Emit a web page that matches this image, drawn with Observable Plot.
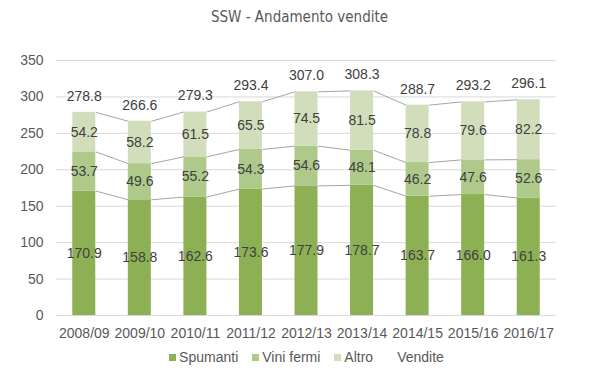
<!DOCTYPE html>
<html>
<head>
<meta charset="utf-8">
<script src="https://cdn.jsdelivr.net/npm/d3@7"></script>
<script src="https://cdn.jsdelivr.net/npm/@observablehq/plot@0.6"></script>
<style>
  body { margin: 0; background: #fff; width: 599px; height: 378px; overflow: hidden; }
  #title { height: 30px; line-height: 34px; text-align: center; font-family: "DejaVu Sans", sans-serif; font-stretch: condensed; font-size: 15px; color: #595959; }
  #legend { display: flex; justify-content: center; align-items: center; gap: 14px; margin-top: 4px; padding-left: 14px; font-family: "Liberation Sans", Arial, sans-serif; font-size: 14px; color: #595959; }
  .item { display: flex; align-items: center; gap: 3px; }
  .sw { width: 7px; height: 7px; display: inline-block; }
</style>
</head>
<body>
<div id="title">SSW - Andamento vendite</div>
<div id="chart"></div>
<div id="legend"></div>
<script>
const years = ["2008/09","2009/10","2010/11","2011/12","2012/13","2013/14","2014/15","2015/16","2016/17"];
const spumanti = [170.9, 158.8, 162.6, 173.6, 177.9, 178.7, 163.7, 166.0, 161.3];
const viniFermi = [53.7, 49.6, 55.2, 54.3, 54.6, 48.1, 46.2, 47.6, 52.6];
const altro = [54.2, 58.2, 61.5, 65.5, 74.5, 81.5, 78.8, 79.6, 82.2];
const vendite = [278.8, 266.6, 279.3, 293.4, 307.0, 308.3, 288.7, 293.2, 296.1];
const seriesNames = ["Spumanti", "Vini fermi", "Altro"];
const seriesColors = ["#8eb054", "#aec98a", "#d2debb"];
const yTicks = [0, 50, 100, 150, 200, 250, 300, 350];

const hw = 0.207; // half bar width in band units
const seriesValues = [spumanti, viniFermi, altro];

const segs = [];
const levels = [[], [], []];
years.forEach((yr, i) => {
  let base = 0;
  seriesValues.forEach((vals, s) => {
    const top = base + vals[i];
    segs.push({i, series: seriesNames[s], y1: base, y2: top, v: vals[i]});
    levels[s].push(s === 2 ? vendite[i] : top);
    base = top;
  });
});
const links = [];
levels.forEach(lv => {
  for (let i = 0; i < lv.length - 1; i++) links.push({x1: i + hw, x2: i + 1 - hw, y1: lv[i], y2: lv[i + 1]});
});
const totals = years.map((yr, i) => ({i, v: vendite[i]}));

const plot = Plot.plot({
  width: 599,
  height: 315,
  marginLeft: 56,
  marginRight: 43,
  marginTop: 30,
  marginBottom: 30,
  style: {fontFamily: "'Liberation Sans', Arial, sans-serif", fontSize: "14px", color: "#595959", background: "#fff"},
  x: {type: "linear", domain: [-0.5, 8.5], ticks: d3.range(years.length), tickFormat: i => years[i], tickSize: 0, tickPadding: 13, label: null},
  y: {domain: [0, 350], ticks: yTicks, tickSize: 0, tickPadding: 13, label: null},
  color: {domain: seriesNames, range: seriesColors},
  marks: [
    Plot.ruleY(yTicks, {stroke: "#d9d9d9", strokeWidth: 1}),
    Plot.link(links, {x1: "x1", x2: "x2", y1: "y1", y2: "y2", stroke: "#a6a6a6", strokeWidth: 1}),
    Plot.rectY(segs, {x1: d => d.i - hw, x2: d => d.i + hw, y1: "y1", y2: "y2", fill: "series"}),
    Plot.text(segs, {x: "i", y: d => (d.y1 + d.y2) / 2, text: d => d.v.toFixed(1), fill: "#404040", fontSize: 14}),
    Plot.text(totals, {x: "i", y: "v", dy: -16, text: d => d.v.toFixed(1), fill: "#404040", fontSize: 14})
  ]
});
document.getElementById("chart").appendChild(plot);

const legend = document.getElementById("legend");
seriesNames.concat(["Vendite"]).forEach((n, k) => {
  const it = document.createElement("span");
  it.className = "item";
  const sw = document.createElement("span");
  sw.className = "sw";
  sw.style.background = k < 3 ? seriesColors[k] : "transparent";
  const t = document.createElement("span");
  t.textContent = n;
  it.appendChild(sw); it.appendChild(t);
  legend.appendChild(it);
});
</script>
</body>
</html>
